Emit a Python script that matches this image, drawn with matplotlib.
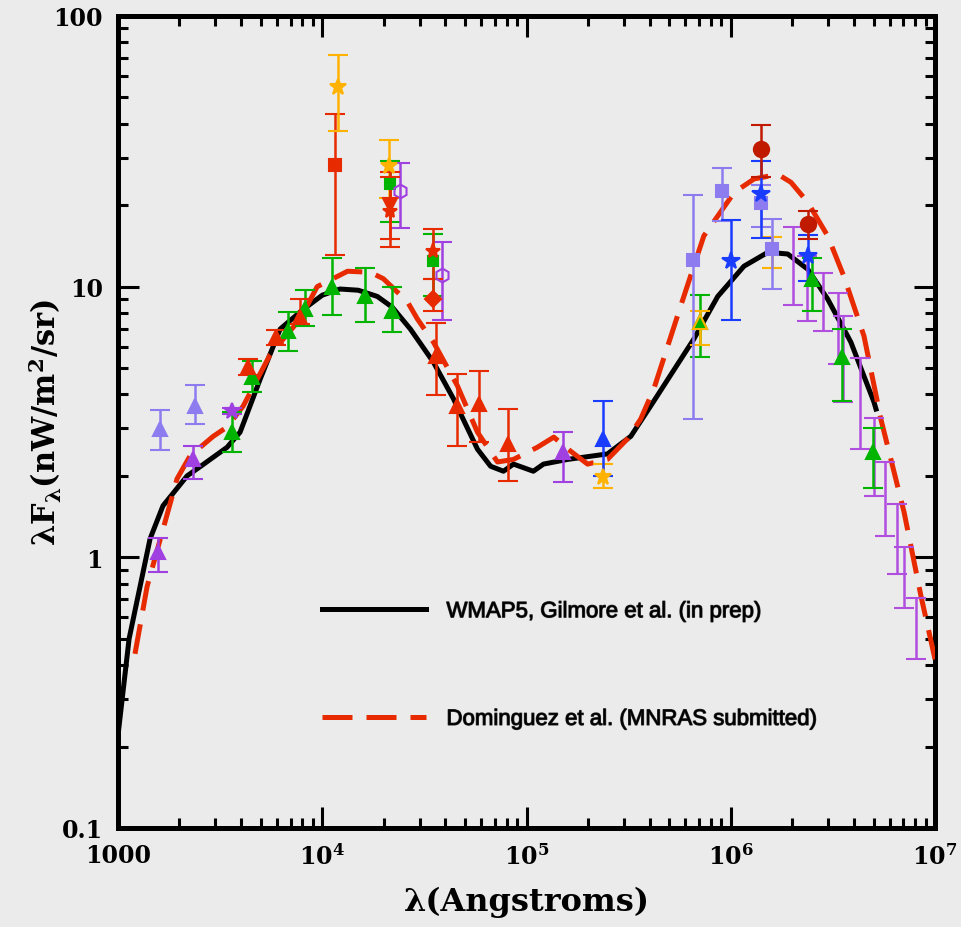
import numpy as np
import matplotlib
matplotlib.use("Agg")
import matplotlib.pyplot as plt
from matplotlib.ticker import FixedLocator, FixedFormatter, LogLocator, NullFormatter
import matplotlib.patheffects as pe

plt.rcParams['mathtext.fontset'] = 'custom'
plt.rcParams['mathtext.rm'] = 'DejaVu Serif:bold'
plt.rcParams['mathtext.it'] = 'DejaVu Serif:bold'
plt.rcParams['mathtext.bf'] = 'DejaVu Serif:bold'

# model curves (wavelength in Angstrom, nW/m^2/sr)
gil_lam = [1000, 1133, 1435, 1660, 2180, 2520, 3420, 3960, 4970, 6220, 8000, 10000,
           12200, 15000, 18600, 22000, 27000, 35000, 43900, 57500, 66700, 77100,
           86300, 108000, 121000, 159000, 249000, 324000, 405000, 659000, 863000,
           1.16e6, 1.52e6, 1.9e6, 2.38e6, 2.98e6, 3.87e6, 5.02e6, 5.14e6]
gil_val = [0.22, 0.5, 1.17, 1.55, 2.0, 2.16, 2.55, 2.9, 4.56, 6.97, 8.2, 9.3,
           9.8, 9.7, 9.2, 8.4, 6.97, 5.26, 3.85, 2.51, 2.17, 2.08,
           2.21, 2.08, 2.21, 2.3, 2.41, 2.8, 3.62, 6.4, 9.2,
           11.9, 13.4, 13.2, 11.6, 9.0, 6.24, 3.75, 3.53]

dom_lam = [1211, 1388, 1945, 2253, 2926, 3420, 4100, 5550, 7800, 9440, 13300, 17200,
           19900, 26100, 29200, 35000, 45900, 57500, 72100, 86300, 113000, 136000,
           164000, 199000, 249000, 312000, 362000, 420000, 569000, 738000, 1.04e6,
           1.3e6, 1.7e6, 1.97e6, 2.38e6, 2.98e6, 3.58e6, 4.49e6, 5.43e6, 7.05e6,
           8.53e6, 1.0e7]
dom_val = [0.44, 0.78, 1.95, 2.37, 2.8, 3.03, 3.62, 5.6, 7.6, 10.0, 11.4, 11.3,
           10.7, 8.8, 7.6, 6.24, 4.3, 2.9, 2.25, 2.3, 2.55, 2.78,
           2.47, 2.21, 2.3, 2.74, 3.24, 4.19, 8.5, 15.4, 22.3,
           25.0, 26.0, 24.3, 20.5, 15.4, 10.9, 6.56, 3.24, 1.47,
           0.72, 0.42]

# data points: lam, value, lower end, upper end
lav_tri_lam = [1607, 2380]
lav_tri_val = [2.98, 3.62]
lav_tri_lo = [2.49, 3.1]
lav_tri_hi = [3.5, 4.33]

pur_tri_lam = [1572, 2330, 150000]
pur_tri_val = [1.05, 2.31, 2.45]
pur_tri_lo = [0.88, 1.95, 1.9]
pur_tri_hi = [1.18, 2.58, 2.9]

pur_star_lam = [3620]
pur_star_val = [3.47]
pur_star_lo = [3.38]
pur_star_hi = [3.56]

grn_tri_lam = [3620, 4540, 6810, 8260, 11200, 16100, 22000, 705000, 2.5e6, 3.5e6, 4.97e6]
grn_tri_val = [2.9, 4.64, 6.85, 8.26, 10.0, 9.2, 8.13, 7.4, 10.7, 5.5, 2.45]
grn_tri_lo = [2.45, 4.08, 5.78, 7.14, 7.85, 7.4, 6.8, 5.5, 8.1, 3.78, 1.8]
grn_tri_hi = [3.44, 5.31, 8.06, 9.7, 12.8, 11.7, 9.97, 9.3, 12.8, 7.0, 3.0]

red_tri_lam = [4340, 5960, 7800, 36200, 45900, 58200, 80700]
red_tri_val = [5.05, 6.5, 7.7, 5.55, 3.62, 3.68, 2.62]
red_tri_lo = [4.7, 6.1, 7.3, 3.98, 2.58, 2.67, 1.91]
red_tri_hi = [5.4, 6.9, 9.0, 7.35, 4.75, 4.87, 3.53]

red_sq_lam = [11600]
red_sq_val = [28.1]
red_sq_lo = [13.1]
red_sq_hi = [43.5]

org_star_lam = [11970, 21100, 238000]
org_star_val = [54.6, 27.9, 1.98]
org_star_lo = [37.6, 21.2, 1.80]
org_star_hi = [71.8, 34.8, 2.21]

org_tri_lam = [705000]
org_tri_val = [7.4]
org_tri_lo = [6.1]
org_tri_hi = [8.1]

org_bar_lam = [1.6e6]
org_bar_val = [13.8]
org_bar_lo = [11.7]
org_bar_hi = [15.2]

grn_sq_lam = [21500, 35000]
grn_sq_val = [23.9, 12.4]
grn_sq_lo = [17.3, 9.2]
grn_sq_hi = [29.1, 15.6]

pur_hex_lam = [24100, 38700]
pur_hex_val = [22.5, 11.0]
pur_hex_lo = [16.4, 7.5]
pur_hex_hi = [28.7, 14.6]

red_dtri_lam = [21500]
red_dtri_val = [20.0]
red_dtri_lo = [14.0]
red_dtri_hi = [26.5]

red_star_lam = [21500, 35000]
red_star_val = [19.0, 13.5]
red_star_lo = [15.0, 10.7]
red_star_hi = [25.5, 16.3]

red_dia_lam = [35000]
red_dia_val = [9.0]
red_dia_lo = [8.1]
red_dia_hi = [10.7]

blu_tri_lam = [238000]
blu_tri_val = [2.74]
blu_tri_lo = [2.0]
blu_tri_hi = [3.78]

lav_sq_lam = [651000, 904000, 1.4e6, 1.6e6]
lav_sq_val = [12.5, 22.5, 20.4, 13.8]
lav_sq_lo = [3.24, 17.5, 16.6, 9.8]
lav_sq_hi = [21.8, 27.4, 23.7, 17.8]

blu_star_lam = [1.0e6, 1.4e6, 2.38e6]
blu_star_val = [12.4, 22.0, 13.0]
blu_star_lo = [7.5, 15.1, 10.5]
blu_star_hi = [17.6, 29.1, 15.5]

dred_circ_lam = [1.4e6, 2.38e6]
dred_circ_val = [32.2, 17.0]
dred_circ_lo = [25.4, 15.0]
dred_circ_hi = [39.5, 19.0]

pur_bar_lam = [2.01e6, 2.36e6, 2.83e6, 3.35e6, 3.54e6, 4.29e6, 5.02e6, 5.69e6,
               6.52e6, 7.05e6, 8.07e6]
pur_bar_val = [12.0, 9.8, 8.8, 6.97, 5.4, 3.68, 2.35, 1.64, 1.17, 0.85, 0.54]
pur_bar_lo = [8.55, 7.46, 6.85, 5.2, 3.75, 2.51, 1.68, 1.2, 0.87, 0.65, 0.42]
pur_bar_hi = [16.6, 13.0, 11.2, 9.5, 7.8, 5.45, 3.27, 2.25, 1.57, 1.09, 0.71]

x_ticks = [1e3, 1e4, 1e5, 1e6, 1e7]
x_labels = ['1000', r'$10^{4}$', r'$10^{5}$', r'$10^{6}$', r'$10^{7}$']
y_ticks = [0.1, 1, 10, 100]
y_labels = ['0.1', '1', '10', '100']

bg = '#ebebeb'
fig = plt.figure(figsize=(9.61, 9.28), dpi=100, facecolor=bg)
ax = fig.add_axes([0.1228, 0.1067, 0.8502, 0.875], facecolor=bg)

ax.plot(gil_lam, gil_val, color='black', lw=3.6, zorder=3,
        label='WMAP5, Gilmore et al. (in prep)')
ax.plot(dom_lam, dom_val, color='#e82a00', lw=3.6, dashes=(6, 2.8), zorder=3,
        label='Dominguez et al. (MNRAS submitted)')


def pts(lam, val, lo, hi, color, marker, ms=10, mfc=None):
    val = np.array(val)
    yerr = [val - np.array(lo), np.array(hi) - val]
    ax.errorbar(lam, val, yerr=yerr, fmt=marker, color=color, ms=ms,
                mfc=color if mfc is None else mfc, mec=color, mew=1.5,
                elinewidth=1.8, capsize=7, capthick=1.8, zorder=4)


pts(pur_bar_lam, pur_bar_val, pur_bar_lo, pur_bar_hi, '#b04ee0', 'none')
pts(lav_tri_lam, lav_tri_val, lav_tri_lo, lav_tri_hi, '#8c7cf0', '^')
pts(pur_tri_lam, pur_tri_val, pur_tri_lo, pur_tri_hi, '#a040e0', '^')
pts(pur_star_lam, pur_star_val, pur_star_lo, pur_star_hi, '#a040e0', '*', 12)
pts(grn_tri_lam, grn_tri_val, grn_tri_lo, grn_tri_hi, '#00b400', '^')
pts(red_tri_lam, red_tri_val, red_tri_lo, red_tri_hi, '#e82a00', '^')
pts(red_sq_lam, red_sq_val, red_sq_lo, red_sq_hi, '#e82a00', 's', 9)
pts(org_star_lam, org_star_val, org_star_lo, org_star_hi, '#ffb300', '*', 12)
pts(org_tri_lam, org_tri_val, org_tri_lo, org_tri_hi, '#ffb300', '^', 10, 'none')
pts(org_bar_lam, org_bar_val, org_bar_lo, org_bar_hi, '#ffb300', 'none')
pts(grn_sq_lam, grn_sq_val, grn_sq_lo, grn_sq_hi, '#00b400', 's', 7)
pts(pur_hex_lam, pur_hex_val, pur_hex_lo, pur_hex_hi, '#a040e0', 'h', 10, 'none')
pts(red_dtri_lam, red_dtri_val, red_dtri_lo, red_dtri_hi, '#e82a00', 'v')
pts(red_star_lam, red_star_val, red_star_lo, red_star_hi, '#e82a00', '*', 11)
pts(red_dia_lam, red_dia_val, red_dia_lo, red_dia_hi, '#e82a00', 'D', 8)
pts(blu_tri_lam, blu_tri_val, blu_tri_lo, blu_tri_hi, '#1a3cff', '^')
pts(lav_sq_lam, lav_sq_val, lav_sq_lo, lav_sq_hi, '#8c7cf0', 's', 8)
pts(blu_star_lam, blu_star_val, blu_star_lo, blu_star_hi, '#1a3cff', '*', 13)
pts(dred_circ_lam, dred_circ_val, dred_circ_lo, dred_circ_hi, '#c01a00', 'o', 11)

ax.set_xscale('log')
ax.set_yscale('log')
ax.set_xlim(1e3, 1e7)
ax.set_ylim(0.1, 100)

ax.xaxis.set_major_locator(FixedLocator(x_ticks))
ax.xaxis.set_major_formatter(FixedFormatter(x_labels))
ax.yaxis.set_major_locator(FixedLocator(y_ticks))
ax.yaxis.set_major_formatter(FixedFormatter(y_labels))
ax.xaxis.set_minor_locator(LogLocator(base=10, subs=range(2, 10)))
ax.yaxis.set_minor_locator(LogLocator(base=10, subs=range(2, 10)))
ax.xaxis.set_minor_formatter(NullFormatter())
ax.yaxis.set_minor_formatter(NullFormatter())

ax.tick_params(which='both', direction='in', top=True, right=True, color='black')
ax.tick_params(which='major', length=15, width=2.2, pad=11)
ax.tick_params(which='minor', length=7, width=2.2)
for lab in ax.get_xticklabels() + ax.get_yticklabels():
    lab.set_family('DejaVu Serif')
    lab.set_weight('bold')
    lab.set_size(17)
for sp in ax.spines.values():
    sp.set_linewidth(3.6)

ax.set_xlabel('λ(Angstroms)', family='DejaVu Serif', weight='bold', size=23, labelpad=12)
ax.set_ylabel(r'$\lambda F_{\lambda}$(nW/m$^{2}$/sr)', family='DejaVu Serif',
              weight='bold', size=22, labelpad=-8)

leg = ax.legend(loc='center left', bbox_to_anchor=(0.2497, 0.200), frameon=False,
                prop={'family': 'Liberation Sans', 'size': 16},
                handlelength=4.7, handletextpad=0.9, labelspacing=3.9,
                borderpad=0, borderaxespad=0)
for t in leg.get_texts():
    t.set_path_effects([pe.withStroke(linewidth=0.9, foreground='#333333')])

fig.savefig('out.png', dpi=100, facecolor=bg)
